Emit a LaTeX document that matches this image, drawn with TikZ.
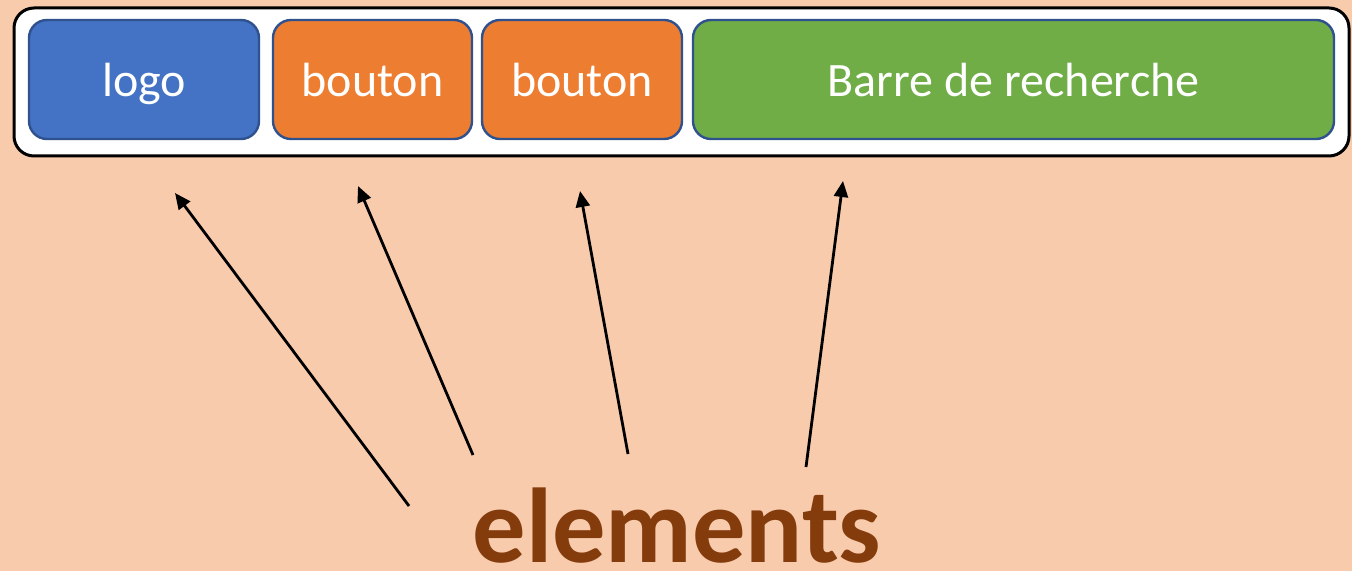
\documentclass[tikz,border=0pt]{standalone}
\usepackage{fontspec}
\setmainfont{Carlito}
\usetikzlibrary{positioning,arrows.meta}

\definecolor{fond}{HTML}{F8CBAD}
\definecolor{bleu}{HTML}{4472C4}
\definecolor{bord}{HTML}{2F528F}
\definecolor{orange}{HTML}{ED7D31}
\definecolor{vert}{HTML}{70AD47}
\definecolor{brun}{HTML}{843C0C}

\tikzset{
  element/.style={draw=bord,line width=1.2pt,rounded corners=9pt,text=white,
    minimum height=59.5pt,inner sep=0pt,text height=17.5pt,text depth=0pt,
    font=\fontsize{24}{29}\selectfont},
  fleche/.style={-{Triangle[length=8pt,width=7pt]},line width=1.4pt}
}

\begin{document}
\begin{tikzpicture}[x=0.5pt,y=-0.5pt]
     \fill[fond] (0,0) rectangle (1352,571);
     \useasboundingbox (0,0) rectangle (1352,571);
     % barre du haut
     \node[draw,fill=white,line width=1.5pt,rounded corners=10pt,minimum width=667.5pt,minimum height=74pt,inner sep=0pt] (barre) at (681.5,82) {};
     \node[element,fill=bleu,minimum width=115pt] (logo) at (144,79.5) {logo};
     \node[element,fill=orange,minimum width=99.5pt] (bouton1) at (372.5,79.5) {bouton};
     \node[element,fill=orange,minimum width=100pt] (bouton2) at (582,79.5) {bouton};
     \node[element,fill=vert,minimum width=320.5pt] (recherche) at (1013.5,79.5) {Barre de recherche};
     % texte du bas
     \node[anchor=base,text=brun,inner sep=0pt,font=\fontsize{53.2}{60}\selectfont\bfseries] (elements) at (677,562) {elements};
     \coordinate (d1) at (409,506);
     \coordinate (d2) at (473,455);
     \coordinate (d3) at (628,454);
     \coordinate (d4) at (806,467);
     \coordinate (a1) at (175,193);
     \coordinate (a2) at (358,186);
     \coordinate (a3) at (580,191);
     \coordinate (a4) at (843,181);
     \draw [fleche] (d1) to (a1);
     \draw [fleche] (d2) to (a2);
     \draw [fleche] (d3) to (a3);
     \draw [fleche] (d4) to (a4);
\end{tikzpicture}
\end{document}
